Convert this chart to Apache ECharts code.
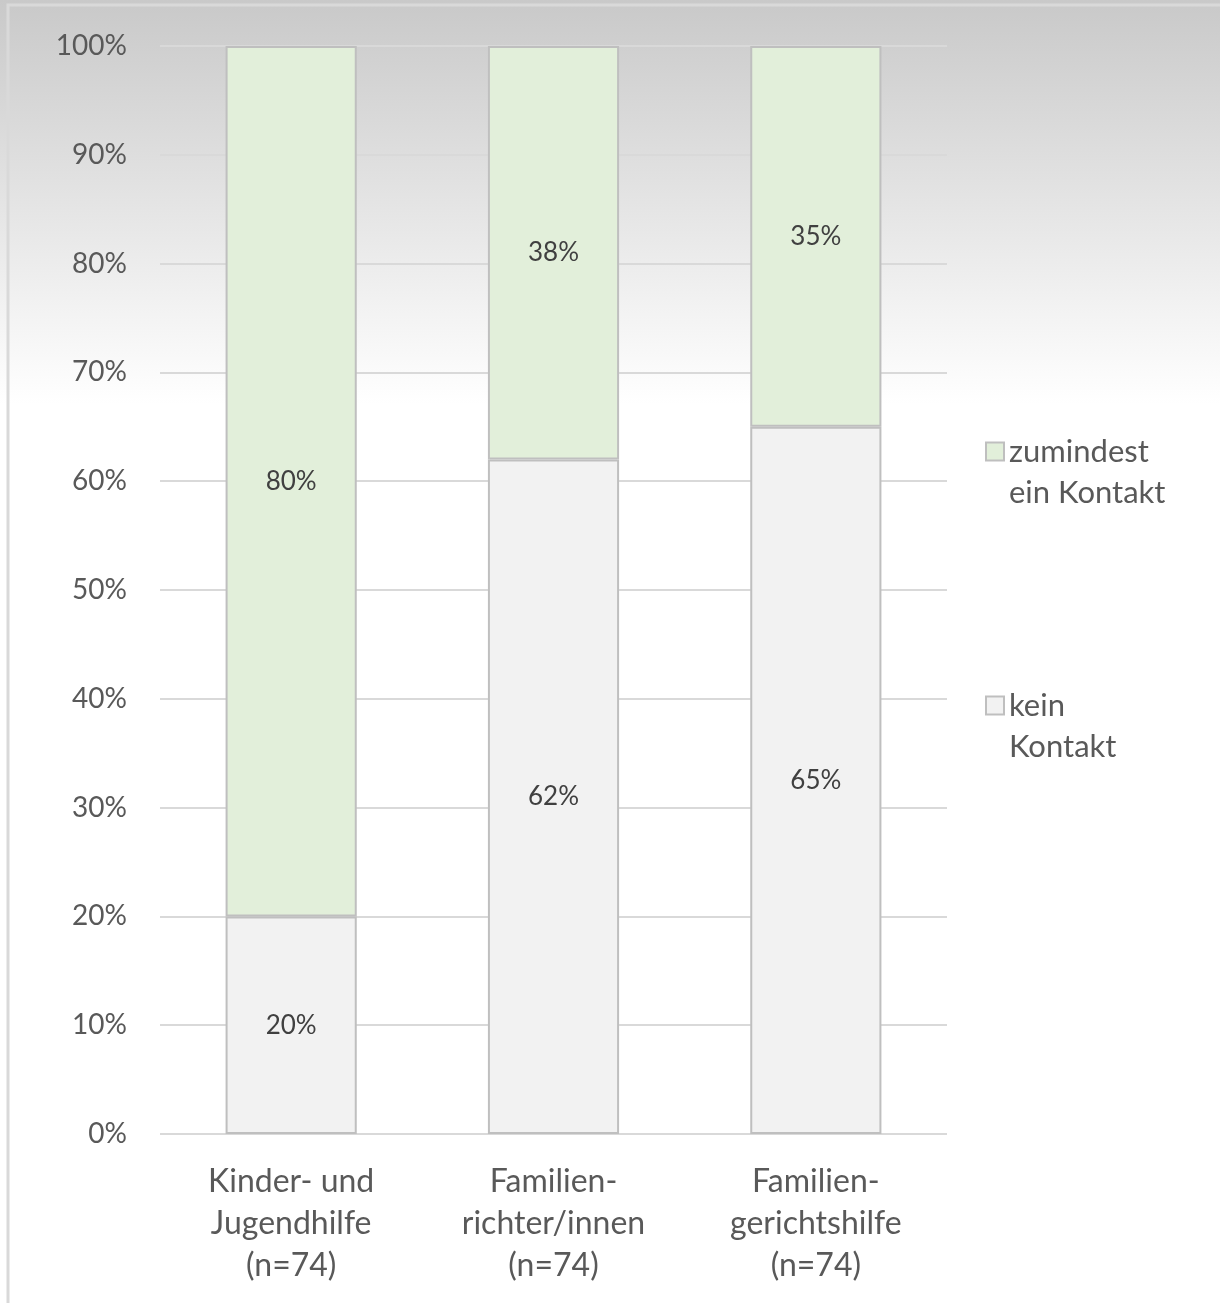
<!DOCTYPE html>
<html>
<head>
<meta charset="utf-8">
<script src="https://cdn.jsdelivr.net/npm/echarts@6/dist/echarts.min.js"></script>
<style>
  html, body { margin: 0; padding: 0; }
  #chart { width: 1220px; height: 1303px; }
</style>
</head>
<body>
<div id="chart"></div>
<script>
// Kontakt zu Institutionen (Anteile in %)
const categories = ['Kinder- und\nJugendhilfe\n(n=74)', 'Familien-\nrichter/innen\n(n=74)', 'Familien-\ngerichtshilfe\n(n=74)'];
const keinKontakt = [20, 62, 65];
const zumindestEinKontakt = [80, 38, 35];
const seriesNames = ['kein\nKontakt', 'zumindest\nein Kontakt'];
const yTicks = { min: 0, max: 100, interval: 10 };

const FONT = 'Lato, "Open Sans", sans-serif';
const TEXT = '#595959';

const chart = echarts.init(document.getElementById('chart'), null, { renderer: 'canvas' });

const barLabel = {
  show: true,
  position: 'inside',
  formatter: p => p.value + '%',
  color: '#404040',
  fontFamily: FONT,
  fontSize: 26
};

chart.setOption({
  animation: false,
  backgroundColor: new echarts.graphic.LinearGradient(0, 0, 0, 1, [
    { offset: 0, color: '#c9c9c9' },
    { offset: 0.31, color: '#ffffff' },
    { offset: 1, color: '#ffffff' }
  ]),
  graphic: [{
    type: 'rect',
    shape: { x: 8, y: 5, width: 1240, height: 1320 },
    style: { fill: 'none', stroke: '#d9d9d9', lineWidth: 3 },
    silent: true
  }],
  grid: { left: 160, right: 273, top: 46, bottom: 169 },
  legend: {
    orient: 'vertical',
    left: 980,
    top: 385,
    itemGap: 131,
    itemWidth: 18,
    itemHeight: 18,
    icon: 'rect',
    data: [seriesNames[1], seriesNames[0]],
    formatter: name => ' \n' + name,
    textStyle: { color: TEXT, fontFamily: FONT, fontSize: 31, lineHeight: 41 }
  },
  xAxis: {
    type: 'category',
    data: categories,
    axisLine: { show: false },
    axisTick: { show: false },
    axisLabel: { color: TEXT, fontFamily: FONT, fontSize: 32, lineHeight: 42, margin: 27 }
  },
  yAxis: {
    type: 'value',
    min: yTicks.min,
    max: yTicks.max,
    interval: yTicks.interval,
    axisLine: { show: false },
    axisTick: { show: false },
    axisLabel: { color: TEXT, fontFamily: FONT, fontSize: 28, margin: 33, formatter: v => v + '%' },
    splitLine: { lineStyle: { color: '#d9d9d9', width: 2 } }
  },
  series: [
    {
      name: seriesNames[0],
      type: 'bar',
      stack: 'total',
      barWidth: '50%',
      data: keinKontakt,
      itemStyle: { color: '#f2f2f2', borderColor: '#bfbfbf', borderWidth: 2 },
      label: barLabel
    },
    {
      name: seriesNames[1],
      type: 'bar',
      stack: 'total',
      barWidth: '50%',
      data: zumindestEinKontakt,
      itemStyle: { color: '#e2efda', borderColor: '#bfbfbf', borderWidth: 2 },
      label: barLabel
    }
  ]
});
</script>
</body>
</html>
